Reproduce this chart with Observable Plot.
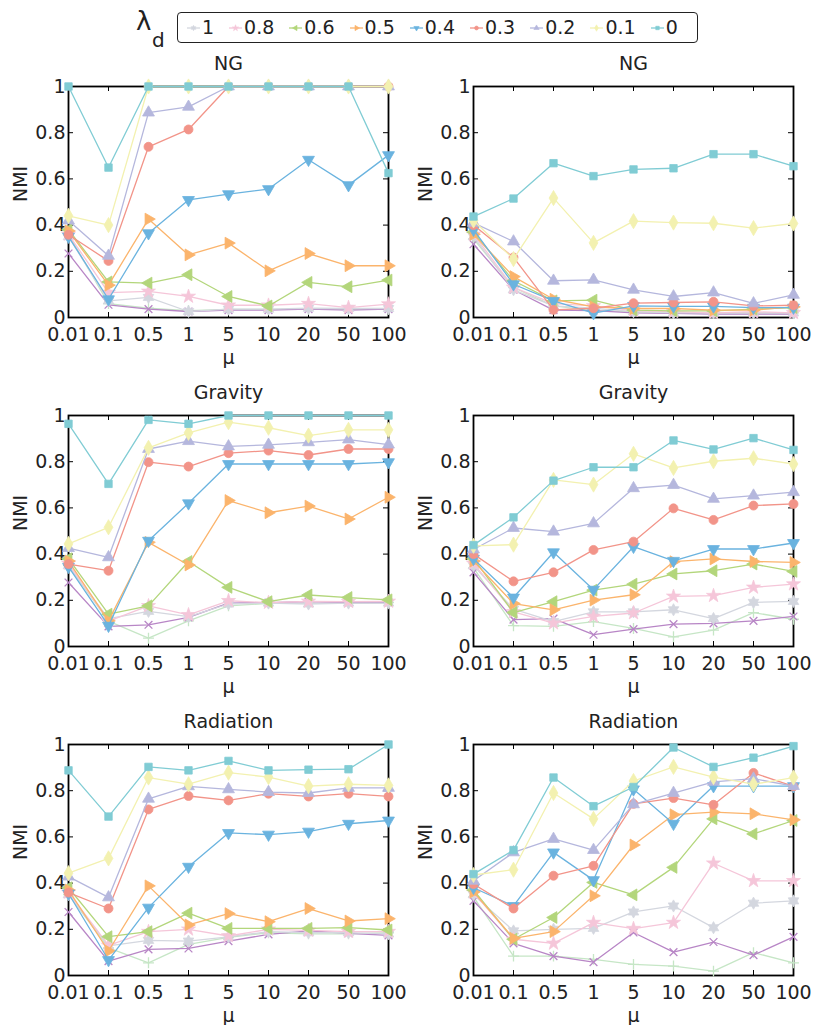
<!DOCTYPE html>
<html>
<head>
<meta charset="utf-8">
<script src="https://cdn.jsdelivr.net/npm/d3@7"></script>
<script src="https://cdn.jsdelivr.net/npm/@observablehq/plot@0.6"></script>
<style>
  html, body { margin: 0; padding: 0; background: #fff; overflow: hidden; }
  #wrap { position: relative; width: 813px; height: 1025px; font-family: "DejaVu Sans", sans-serif; color: #222; }
  .panel { position: absolute; }
  #legend { position: absolute; left: 177px; top: 12px; width: 521px; height: 31px; box-sizing: border-box;
            border: 1.4px solid #222; border-radius: 4px; display: flex; align-items: center;
            padding-left: 9px; gap: 15px; font-size: 19px; }
  #legend .item { display: flex; align-items: center; }
  #legend .item span { margin-left: 2px; line-height: 1; }
  #lam { position: absolute; left: 0; top: 0; }
</style>
</head>
<body>
<div id="wrap"></div>
<script>
// ---------- data ----------
const muLabels = ["0.01", "0.1", "0.5", "1", "5", "10", "20", "50", "100"];
const yTicks = [0, 0.2, 0.4, 0.6, 0.8, 1];
const panelTitles = ["NG", "NG", "Gravity", "Gravity", "Radiation", "Radiation"];
const legendLabels = ["1", "0.8", "0.6", "0.5", "0.4", "0.3", "0.2", "0.1", "0"];
// draw order (bottom to top); "x" and "+" are the two series absent from the legend
const drawOrder = ["+", "x", "1", "0.8", "0.6", "0.5", "0.4", "0.3", "0.2", "0.1", "0"];

const seriesColor = {
  "0": "#80ccd4", "0.1": "#f3f1b0", "0.2": "#b5b7dd", "0.3": "#f29489", "0.4": "#6ab3df",
  "0.5": "#fbb46c", "0.6": "#b3d67b", "0.8": "#f5c6d9", "1": "#d4d7df", "x": "#b886c6", "+": "#c6e6c6"
};

const ngA = {
  "0":   [1.0, 0.649, 1.0, 1.0, 1.0, 1.0, 1.0, 1.0, 0.625],
  "0.1": [0.44, 0.40, 1.0, 1.0, 1.0, 1.0, 1.0, 1.0, 1.0],
  "0.2": [0.42, 0.267, 0.887, 0.912, 1.0, 1.0, 1.0, 1.0, 1.0],
  "0.3": [0.358, 0.245, 0.739, 0.814, 1.0, 1.0, 1.0, 1.0, 1.0],
  "0.4": [0.35, 0.079, 0.365, 0.509, 0.534, 0.556, 0.683, 0.573, 0.703],
  "0.5": [0.375, 0.14, 0.426, 0.271, 0.322, 0.202, 0.277, 0.224, 0.224],
  "0.6": [0.38, 0.154, 0.149, 0.185, 0.091, 0.05, 0.152, 0.133, 0.162],
  "0.8": [0.36, 0.108, 0.113, 0.091, 0.053, 0.053, 0.06, 0.043, 0.058],
  "1":   [0.35, 0.072, 0.087, 0.026, 0.036, 0.036, 0.04, 0.039, 0.039],
  "x":   [0.277, 0.055, 0.036, 0.026, 0.032, 0.032, 0.036, 0.032, 0.036],
  "+":   [0.36, 0.06, 0.04, 0.03, 0.035, 0.035, 0.035, 0.035, 0.035]
};
const ngB = {
  "0":   [0.437, 0.515, 0.668, 0.612, 0.641, 0.646, 0.707, 0.707, 0.655],
  "0.1": [0.42, 0.253, 0.517, 0.323, 0.417, 0.411, 0.408, 0.387, 0.407],
  "0.2": [0.41, 0.329, 0.159, 0.163, 0.12, 0.091, 0.108, 0.061, 0.098],
  "0.3": [0.40, 0.26, 0.033, 0.04, 0.062, 0.065, 0.068, 0.05, 0.053],
  "0.4": [0.38, 0.144, 0.072, 0.019, 0.05, 0.048, 0.048, 0.043, 0.043],
  "0.5": [0.36, 0.177, 0.079, 0.046, 0.039, 0.039, 0.032, 0.032, 0.046],
  "0.6": [0.37, 0.159, 0.072, 0.075, 0.032, 0.029, 0.029, 0.036, 0.043],
  "0.8": [0.36, 0.13, 0.06, 0.05, 0.03, 0.025, 0.02, 0.025, 0.02],
  "1":   [0.35, 0.12, 0.05, 0.04, 0.025, 0.02, 0.02, 0.02, 0.02],
  "x":   [0.317, 0.12, 0.032, 0.03, 0.02, 0.018, 0.015, 0.015, 0.015],
  "+":   [0.34, 0.13, 0.05, 0.03, 0.025, 0.02, 0.02, 0.02, 0.02]
};
const gravA = {
  "0":   [0.964, 0.704, 0.981, 0.964, 1.0, 1.0, 1.0, 1.0, 1.0],
  "0.1": [0.444, 0.516, 0.86, 0.925, 0.971, 0.947, 0.913, 0.938, 0.938],
  "0.2": [0.426, 0.386, 0.855, 0.889, 0.866, 0.873, 0.884, 0.896, 0.874],
  "0.3": [0.357, 0.328, 0.798, 0.779, 0.837, 0.848, 0.829, 0.855, 0.855],
  "0.4": [0.345, 0.09, 0.458, 0.62, 0.79, 0.79, 0.79, 0.79, 0.798],
  "0.5": [0.37, 0.111, 0.451, 0.353, 0.632, 0.579, 0.608, 0.552, 0.646],
  "0.6": [0.38, 0.14, 0.176, 0.368, 0.256, 0.194, 0.223, 0.212, 0.202],
  "0.8": [0.36, 0.11, 0.176, 0.137, 0.198, 0.19, 0.195, 0.194, 0.195],
  "1":   [0.35, 0.121, 0.152, 0.129, 0.184, 0.188, 0.184, 0.188, 0.188],
  "x":   [0.277, 0.087, 0.094, 0.126, 0.188, 0.19, 0.194, 0.19, 0.19],
  "+":   [0.35, 0.11, 0.036, 0.111, 0.176, 0.187, 0.187, 0.188, 0.19]
};
const gravB = {
  "0":   [0.439, 0.559, 0.718, 0.776, 0.776, 0.892, 0.853, 0.902, 0.851],
  "0.1": [0.436, 0.441, 0.721, 0.701, 0.834, 0.773, 0.802, 0.815, 0.79],
  "0.2": [0.42, 0.513, 0.497, 0.533, 0.685, 0.699, 0.639, 0.653, 0.668],
  "0.3": [0.40, 0.282, 0.321, 0.418, 0.454, 0.598, 0.548, 0.61, 0.617],
  "0.4": [0.38, 0.212, 0.408, 0.246, 0.432, 0.371, 0.422, 0.422, 0.448],
  "0.5": [0.37, 0.186, 0.159, 0.201, 0.224, 0.367, 0.379, 0.368, 0.364],
  "0.6": [0.38, 0.147, 0.194, 0.244, 0.27, 0.314, 0.328, 0.357, 0.325],
  "0.8": [0.36, 0.15, 0.101, 0.13, 0.145, 0.217, 0.22, 0.256, 0.27],
  "1":   [0.35, 0.162, 0.108, 0.15, 0.15, 0.159, 0.121, 0.191, 0.195],
  "x":   [0.321, 0.116, 0.121, 0.051, 0.075, 0.097, 0.1, 0.111, 0.13],
  "+":   [0.34, 0.09, 0.087, 0.108, 0.078, 0.042, 0.071, 0.147, 0.118]
};
const radA = {
  "0":   [0.888, 0.688, 0.903, 0.888, 0.929, 0.888, 0.891, 0.893, 1.0],
  "0.1": [0.443, 0.507, 0.857, 0.828, 0.878, 0.859, 0.82, 0.828, 0.823],
  "0.2": [0.428, 0.338, 0.765, 0.819, 0.806, 0.794, 0.79, 0.812, 0.812],
  "0.3": [0.359, 0.29, 0.719, 0.777, 0.758, 0.787, 0.775, 0.787, 0.775],
  "0.4": [0.355, 0.067, 0.294, 0.471, 0.617, 0.61, 0.623, 0.657, 0.671],
  "0.5": [0.37, 0.106, 0.388, 0.219, 0.268, 0.233, 0.29, 0.236, 0.246],
  "0.6": [0.38, 0.168, 0.19, 0.27, 0.204, 0.204, 0.204, 0.207, 0.197],
  "0.8": [0.36, 0.13, 0.19, 0.2, 0.171, 0.2, 0.195, 0.19, 0.19],
  "1":   [0.35, 0.128, 0.152, 0.149, 0.167, 0.19, 0.185, 0.185, 0.18],
  "x":   [0.275, 0.062, 0.113, 0.117, 0.149, 0.178, 0.193, 0.183, 0.174],
  "+":   [0.35, 0.12, 0.055, 0.135, 0.165, 0.185, 0.18, 0.18, 0.185]
};
const radB = {
  "0":   [0.439, 0.543, 0.857, 0.733, 0.816, 0.987, 0.903, 0.943, 0.993],
  "0.1": [0.435, 0.458, 0.79, 0.678, 0.842, 0.903, 0.859, 0.828, 0.857],
  "0.2": [0.41, 0.533, 0.591, 0.543, 0.741, 0.79, 0.838, 0.852, 0.82],
  "0.3": [0.396, 0.29, 0.432, 0.475, 0.743, 0.768, 0.739, 0.877, 0.819],
  "0.4": [0.38, 0.301, 0.533, 0.413, 0.806, 0.657, 0.82, 0.82, 0.82],
  "0.5": [0.362, 0.161, 0.19, 0.345, 0.565, 0.696, 0.707, 0.7, 0.674],
  "0.6": [0.37, 0.157, 0.251, 0.403, 0.349, 0.468, 0.678, 0.613, 0.671],
  "0.8": [0.36, 0.157, 0.139, 0.229, 0.203, 0.229, 0.486, 0.41, 0.41],
  "1":   [0.35, 0.193, 0.2, 0.204, 0.275, 0.301, 0.207, 0.313, 0.323],
  "x":   [0.323, 0.139, 0.084, 0.058, 0.186, 0.101, 0.145, 0.088, 0.167],
  "+":   [0.34, 0.084, 0.084, 0.07, 0.048, 0.041, 0.019, 0.099, 0.055]
};
const panels = [ngA, ngB, gravA, gravB, radA, radB];

// ---------- marker shapes ----------
function polySymbol(fn) {
  return { draw(ctx, size) {
    const pts = fn(Math.sqrt(size));
    pts.forEach(([x, y], i) => i ? ctx.lineTo(x, y) : ctx.moveTo(x, y));
    ctx.closePath();
  } };
}
const triPts = (s, dir) => {
  const a = s * Math.sqrt(4 / Math.sqrt(3)), h = a * Math.sqrt(3) / 2;
  if (dir === "down") return [[0, 2 * h / 3], [-a / 2, -h / 3], [a / 2, -h / 3]];
  if (dir === "left") return [[-2 * h / 3, 0], [h / 3, -a / 2], [h / 3, a / 2]];
  return [[2 * h / 3, 0], [-h / 3, -a / 2], [-h / 3, a / 2]];
};
const triDown = polySymbol(s => triPts(s, "down"));
const triLeft = polySymbol(s => triPts(s, "left"));
const triRight = polySymbol(s => triPts(s, "right"));
const hexagram = polySymbol(s => {
  const R = s * 0.78, r = R / Math.sqrt(3), pts = [];
  for (let k = 0; k < 12; k++) {
    const ang = -Math.PI / 2 + k * Math.PI / 6, rr = k % 2 ? r : R;
    pts.push([rr * Math.cos(ang), rr * Math.sin(ang)]);
  }
  return pts;
});
const seriesMarker = {
  "0": {symbol: "square", r: 4.2, filled: true},
  "0.1": {symbol: "diamond", r: 4.6, filled: true},
  "0.2": {symbol: "triangle", r: 4.4, filled: true},
  "0.3": {symbol: "circle", r: 4.5, filled: true},
  "0.4": {symbol: triDown, r: 4.4, filled: true},
  "0.5": {symbol: triRight, r: 4.4, filled: true},
  "0.6": {symbol: triLeft, r: 4.4, filled: true},
  "0.8": {symbol: "star", r: 4.4, filled: true},
  "1": {symbol: hexagram, r: 4.4, filled: true},
  "x": {symbol: "times", r: 3.6, filled: false},
  "+": {symbol: "plus", r: 3.6, filled: false}
};

// ---------- panels ----------
const W = 406, H = 319, ML = 68, MR = 18, MT = 38, MB = 50;
const PW = W - ML - MR, PH = H - MT - MB;
const wrap = document.getElementById("wrap");

panels.forEach((p, idx) => {
  const col = idx % 2, row = Math.floor(idx / 2);
  const marks = [
    Plot.frame({stroke: "#000", strokeWidth: 1.8}),
    Plot.tickX(muLabels, {x: d => d, insetTop: PH - 5, stroke: "#000", strokeWidth: 1}),
    Plot.tickX(muLabels, {x: d => d, insetBottom: PH - 5, stroke: "#000", strokeWidth: 1}),
    Plot.tickY(yTicks, {y: d => d, insetRight: PW - 5, stroke: "#000", strokeWidth: 1}),
    Plot.tickY(yTicks, {y: d => d, insetLeft: PW - 5, stroke: "#000", strokeWidth: 1}),
    Plot.axisX({tickSize: 0, tickPadding: 10, label: null}),
    Plot.axisY(yTicks, {tickSize: 0, tickPadding: 3, tickFormat: d => String(d), label: null}),
    Plot.text([panelTitles[idx]], {text: d => d, frameAnchor: "top", lineAnchor: "middle", dy: -23, fontSize: 19}),
    Plot.text(["NMI"], {text: d => d, frameAnchor: "left", lineAnchor: "middle", dx: -48, rotate: -90, fontSize: 19}),
    Plot.text(["μ"], {text: d => d, frameAnchor: "bottom", lineAnchor: "top", dy: 33, fontSize: 19})
  ];
  drawOrder.forEach(k => {
    const rows = p[k].map((v, i) => ({mu: muLabels[i], nmi: v}));
    const c = seriesColor[k], m = seriesMarker[k];
    marks.push(Plot.line(rows, {x: "mu", y: "nmi", stroke: c, strokeWidth: 1.3}));
    marks.push(Plot.dot(rows, {x: "mu", y: "nmi", symbol: m.symbol, r: m.r,
      fill: m.filled ? c : "none", stroke: c, strokeWidth: m.filled ? 0.8 : 1.3}));
  });
  const chart = Plot.plot({
    width: W, height: H, marginLeft: ML, marginRight: MR, marginTop: MT, marginBottom: MB,
    style: {fontFamily: "DejaVu Sans", fontSize: "19px", color: "#222", background: "none", overflow: "visible"},
    x: {type: "point", domain: muLabels, padding: 0},
    y: {domain: [0, 1]},
    marks
  });
  chart.classList.add("panel");
  chart.style.left = (col * 405) + "px";
  chart.style.top = (48 + row * 329) + "px";
  wrap.appendChild(chart);
});

// ---------- legend ----------
const lam = d3.select(wrap).append("svg").attr("id", "lam").attr("width", 176).attr("height", 60);
lam.append("text").attr("x", 136).attr("y", 30).attr("font-size", 26).attr("font-family", "DejaVu Sans").attr("fill", "#222").text("λ");
lam.append("text").attr("x", 152).attr("y", 47).attr("font-size", 20).attr("font-family", "DejaVu Sans").attr("fill", "#222").text("d");

const legend = d3.select(wrap).append("div").attr("id", "legend");
legendLabels.forEach(k => {
  const item = legend.append("div").attr("class", "item");
  const sw = item.append("svg").attr("width", 13).attr("height", 12);
  const c = seriesColor[k], m = seriesMarker[k];
  sw.append("line").attr("x1", 0).attr("x2", 13).attr("y1", 6).attr("y2", 6).attr("stroke", c).attr("stroke-width", 1.3);
  const symType = typeof m.symbol === "string"
    ? {square: d3.symbolSquare, diamond: d3.symbolDiamond, triangle: d3.symbolTriangle, circle: d3.symbolCircle, star: d3.symbolStar}[m.symbol]
    : m.symbol;
  sw.append("path").attr("transform", "translate(6.5,6)")
    .attr("d", d3.symbol(symType, 12)()).attr("fill", c).attr("stroke", c).attr("stroke-width", 0.6);
  item.append("span").text(k);
});
</script>
</body>
</html>
